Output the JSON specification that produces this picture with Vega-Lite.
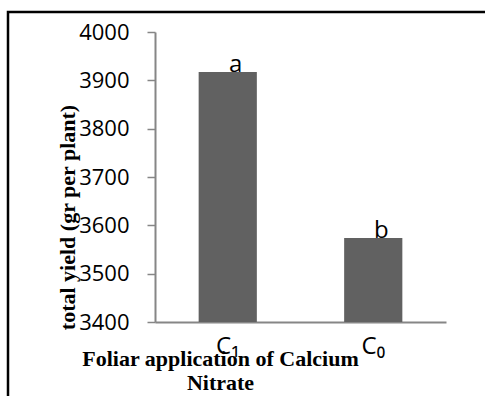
{
  "$schema": "https://vega.github.io/schema/vega-lite/v6.json",
  "autosize": "none",
  "padding": {"left": 8, "top": 12, "right": 0, "bottom": 0},
  "width": 477,
  "height": 384,
  "background": "white",
  "config": {
    "view": {"stroke": "black", "strokeWidth": 2.5, "strokeDash": [477, 861, 384]},
    "axis": {"grid": false}
  },
  "data": {
    "values": [
      {"treatment": "C₁", "yield": 3917, "label": "a"},
      {"treatment": "C₀", "yield": 3574, "label": "b"}
    ]
  },
  "encoding": {
    "x": {
      "field": "treatment",
      "type": "nominal",
      "sort": null,
      "scale": {"range": [147, 438], "paddingInner": 0.6, "paddingOuter": 0.3},
      "axis": {
        "offset": -74,
        "title": ["Foliar application of Calcium", "Nitrate"],
        "titleFont": "Liberation Serif",
        "titleFontWeight": "bold",
        "titleFontSize": 22,
        "titleColor": "black",
        "titleLineHeight": 24,
        "titleX": 212,
        "titleY": 26,
        "titleAnchor": "start",
        "titleAlign": "center",
        "titleBaseline": "top",
        "labelAngle": 0,
        "labelFont": "Open Sans",
        "labelFontSize": 24,
        "labelColor": "black",
        "labelPadding": 12,
        "ticks": false,
        "domainColor": "#868686",
        "domainWidth": 2
      }
    },
    "y": {
      "field": "yield",
      "type": "quantitative",
      "scale": {"domain": [3400, 4000], "nice": false, "zero": false, "range": [310, 20]},
      "axis": {
        "offset": -147,
        "values": [3400, 3500, 3600, 3700, 3800, 3900, 4000],
        "format": "d",
        "title": "total yield (gr per plant)",
        "titleFont": "Liberation Serif",
        "titleFontWeight": "bold",
        "titleFontSize": 22,
        "titleColor": "black",
        "titleX": -88,
        "titleY": 205,
        "titleAngle": -90,
        "titleAlign": "center",
        "titleBaseline": "middle",
        "labelFont": "Open Sans",
        "labelFontSize": 22,
        "labelColor": "black",
        "labelPadding": 18,
        "tickSize": 8,
        "tickColor": "#868686",
        "tickWidth": 1.5,
        "domainColor": "#868686",
        "domainWidth": 2
      }
    }
  },
  "layer": [
    {
      "mark": {"type": "bar", "color": "#616161"},
      "encoding": {"y2": {"datum": 3400}}
    },
    {
      "mark": {"type": "text", "font": "Open Sans", "fontSize": 24, "color": "black", "dx": 8, "baseline": "alphabetic", "align": "center"},
      "encoding": {"text": {"field": "label"}}
    }
  ]
}
